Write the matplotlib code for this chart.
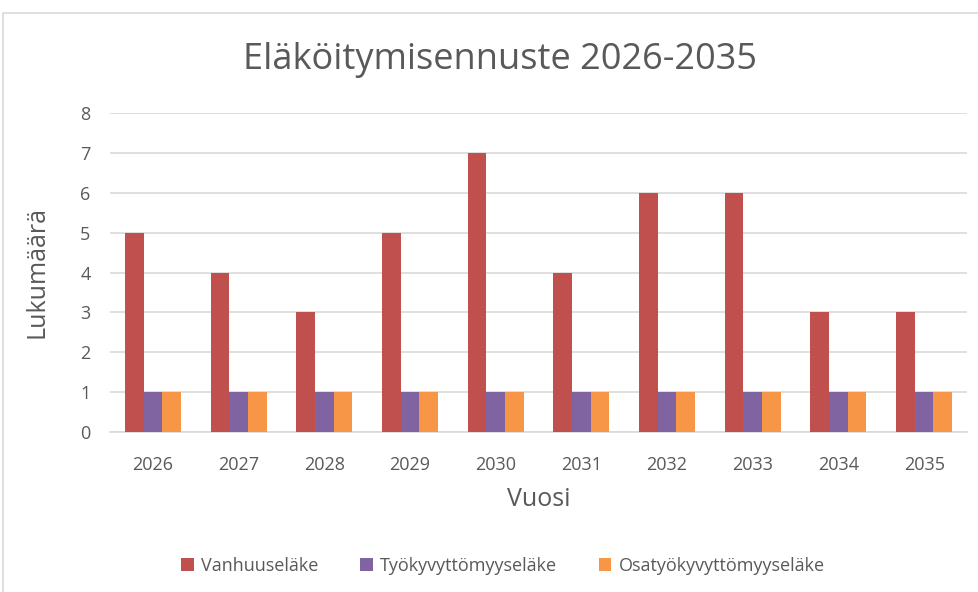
import matplotlib.pyplot as plt
from matplotlib.patches import Rectangle
import numpy as np

years = ["2026", "2027", "2028", "2029", "2030", "2031", "2032", "2033", "2034", "2035"]
vanhuus = [5, 4, 3, 5, 7, 4, 6, 6, 3, 3]
tyokyvyttomyys = [1, 1, 1, 1, 1, 1, 1, 1, 1, 1]
osatyokyvyttomyys = [1, 1, 1, 1, 1, 1, 1, 1, 1, 1]
series_names = ["Vanhuuseläke", "Työkyvyttömyyseläke", "Osatyökyvyttömyyseläke"]
colors = ["#C0504D", "#8064A2", "#F79646"]

plt.rcParams['font.family'] = ['Open Sans', 'DejaVu Sans']
txt = "#595959"

fig = plt.figure(figsize=(9.79, 5.92), dpi=100)
# chart frame
fig.patches.append(Rectangle((3 / 979, -0.1), 1.2, 1.1 - 13 / 592,
                             transform=fig.transFigure, fill=False,
                             edgecolor="#D9D9D9", linewidth=1.2))

ax = fig.add_axes([110 / 979, 1 - 432 / 592, 857 / 979, 319 / 592])

x = np.arange(len(years))
w = 0.218
for i, (vals, name) in enumerate(zip([vanhuus, tyokyvyttomyys, osatyokyvyttomyys], series_names)):
    ax.bar(x + (i - 1) * w, vals, width=w, color=colors[i], label=name, zorder=3)

ax.set_xlim(-0.5, len(years) - 0.5)
ax.set_ylim(0, 8)
ax.set_yticks(range(0, 9))
ax.set_xticks(x)
ax.set_xticklabels(years)
ax.yaxis.grid(True, color="#D9D9D9", linewidth=1.2, zorder=0)
for s in ["top", "right", "left"]:
    ax.spines[s].set_visible(False)
ax.spines["bottom"].set_color("#D9D9D9")
ax.spines["bottom"].set_linewidth(1.2)
ax.tick_params(length=0, labelsize=13, colors=txt)
ax.tick_params(axis="x", pad=17)
ax.tick_params(axis="y", pad=14)

ax.set_xlabel("Vuosi", fontsize=18, color=txt, labelpad=10)
ax.set_ylabel("Lukumäärä", fontsize=18, color=txt, labelpad=22)

fig.text(500 / 979, 1 - 60 / 592, "Eläköitymisennuste 2026-2035",
         ha="center", va="center", fontsize=26, color=txt)

leg = fig.legend(loc="center", bbox_to_anchor=(503 / 979, 1 - 566 / 592), ncol=3,
                 frameon=False, fontsize=13, handlelength=0.7, handleheight=0.7,
                 columnspacing=2.3, handletextpad=0.4)
for t in leg.get_texts():
    t.set_color(txt)

fig.savefig("out.png", dpi=100)
